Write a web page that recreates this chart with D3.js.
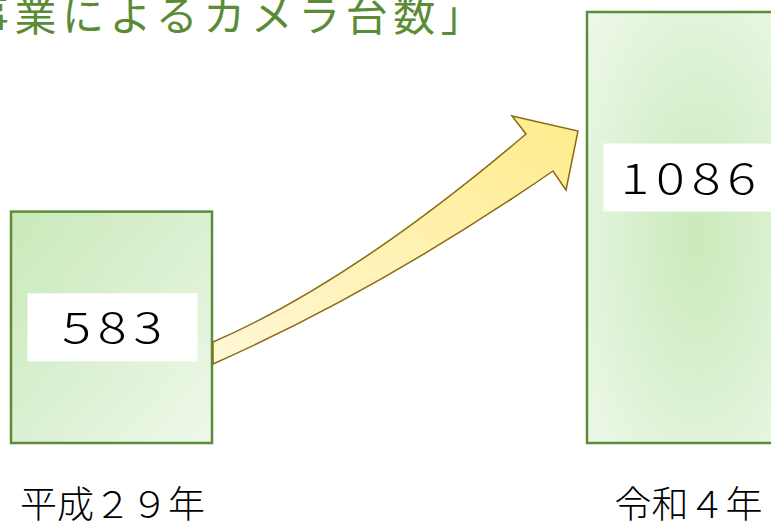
<!DOCTYPE html>
<html>
<head>
<meta charset="utf-8">
<script src="https://cdn.jsdelivr.net/npm/d3@7"></script>
<style>
  body { margin: 0; background: #fff; }
  svg { display: block; }
</style>
</head>
<body>
<div id="chart"></div>
<script>
// data
var categories = ["平成２９年", "令和４年"];
var cameraCounts = [583, 1086];
var titleText = "事業によるカメラ台数」";

var svgWidth = 771;
var svgHeight = 524;

var svg = d3.select("#chart")
    .append("svg")
        .attr("width", svgWidth)
        .attr("height", svgHeight);

var defs = svg.append("defs");

// left bar: diagonal light green
var g1 = defs.append("linearGradient")
    .attr("id", "barGrad0")
    .attr("x1", "0%").attr("y1", "0%")
    .attr("x2", "100%").attr("y2", "100%");
g1.append("stop").attr("offset", "0%").attr("stop-color", "#c8e9b9");
g1.append("stop").attr("offset", "100%").attr("stop-color", "#eef8ea");

// right bar: radial, darker in the middle
var g2 = defs.append("radialGradient")
    .attr("id", "barGrad1")
    .attr("cx", "55%").attr("cy", "52%").attr("r", "75%");
g2.append("stop").attr("offset", "0%").attr("stop-color", "#c9eaba");
g2.append("stop").attr("offset", "100%").attr("stop-color", "#eef8ea");

var ag = defs.append("linearGradient")
    .attr("id", "arrowGrad")
    .attr("x1", "0%").attr("y1", "100%")
    .attr("x2", "100%").attr("y2", "0%");
ag.append("stop").attr("offset", "0%").attr("stop-color", "#fff7d6");
ag.append("stop").attr("offset", "100%").attr("stop-color", "#ffec8c");

var xScale = d3.scaleBand()
    .domain(categories)
    .range([11, 788])
    .paddingInner(375 / 576)
    .paddingOuter(0);

var yScale = d3.scaleLinear()
    .domain([0, d3.max(cameraCounts)])
    .range([443, 12]);

var bw = xScale.bandwidth();

// title (cut off on the left like the source)
svg.append("text")
    .attr("x", -33)
    .attr("y", 31)
    .attr("font-family", "'Noto Sans CJK JP'")
    .attr("font-size", 42)
    .attr("letter-spacing", 5.5)
    .attr("fill", "#5a8c36")
    .text(titleText);

// bars
svg.selectAll(".bar")
    .data(cameraCounts)
    .enter()
    .append("rect")
        .attr("class", "bar")
        .attr("x", (d, i) => xScale(categories[i]))
        .attr("y", d => yScale(d))
        .attr("width", bw)
        .attr("height", d => yScale(0) - yScale(d))
        .attr("fill", (d, i) => `url(#barGrad${i})`)
        .attr("stroke", "#5b8c3a")
        .attr("stroke-width", 2.5);

// curved arrow between the bars
var x0 = xScale(categories[0]) + bw + 1;
var x1 = xScale(categories[1]);
var arrow = d3.path();
arrow.moveTo(x0, 342);
arrow.quadraticCurveTo(352, 282, x1 - 61, 134);
arrow.lineTo(x1 - 75, 116);
arrow.lineTo(x1 - 9, 131);
arrow.lineTo(x1 - 21, 190);
arrow.lineTo(x1 - 34, 171);
arrow.quadraticCurveTo(380, 290, x0, 364);
arrow.closePath();

svg.append("path")
    .attr("d", arrow.toString())
    .attr("fill", "url(#arrowGrad)")
    .attr("stroke", "#8a6b12")
    .attr("stroke-width", 1.5)
    .attr("stroke-linejoin", "miter");

// value boxes
var boxPos = [0.5, 0.384];
var labels = svg.selectAll(".val")
    .data(cameraCounts)
    .enter()
    .append("g")
        .attr("class", "val")
        .attr("transform", (d, i) => {
            var cy = yScale(d) + (yScale(0) - yScale(d)) * boxPos[i];
            return `translate(${xScale(categories[i]) + bw / 2 + 1}, ${cy})`;
        });

labels.append("rect")
    .attr("x", -85)
    .attr("y", -34)
    .attr("width", 170)
    .attr("height", 68)
    .attr("fill", "#fff");

// digits in the source are wide, so stretch them a little
labels.append("text")
    .attr("transform", "scale(1.25,1)")
    .attr("x", 2.5)
    .attr("y", 16)
    .attr("text-anchor", "middle")
    .attr("font-family", "'Noto Sans CJK JP'")
    .attr("font-weight", 300)
    .attr("font-size", 43)
    .attr("letter-spacing", 5.5)
    .attr("fill", "#000")
    .text(d => d);

// category labels
svg.selectAll(".cat")
    .data(categories)
    .enter()
    .append("text")
        .attr("class", "cat")
        .attr("x", d => xScale(d) + bw / 2 + 1)
        .attr("y", 518)
        .attr("text-anchor", "middle")
        .attr("font-family", "'Noto Sans CJK JP'")
        .attr("font-weight", 300)
        .attr("font-size", 37)
        .attr("fill", "#000")
        .text(d => d);
</script>
</body>
</html>
